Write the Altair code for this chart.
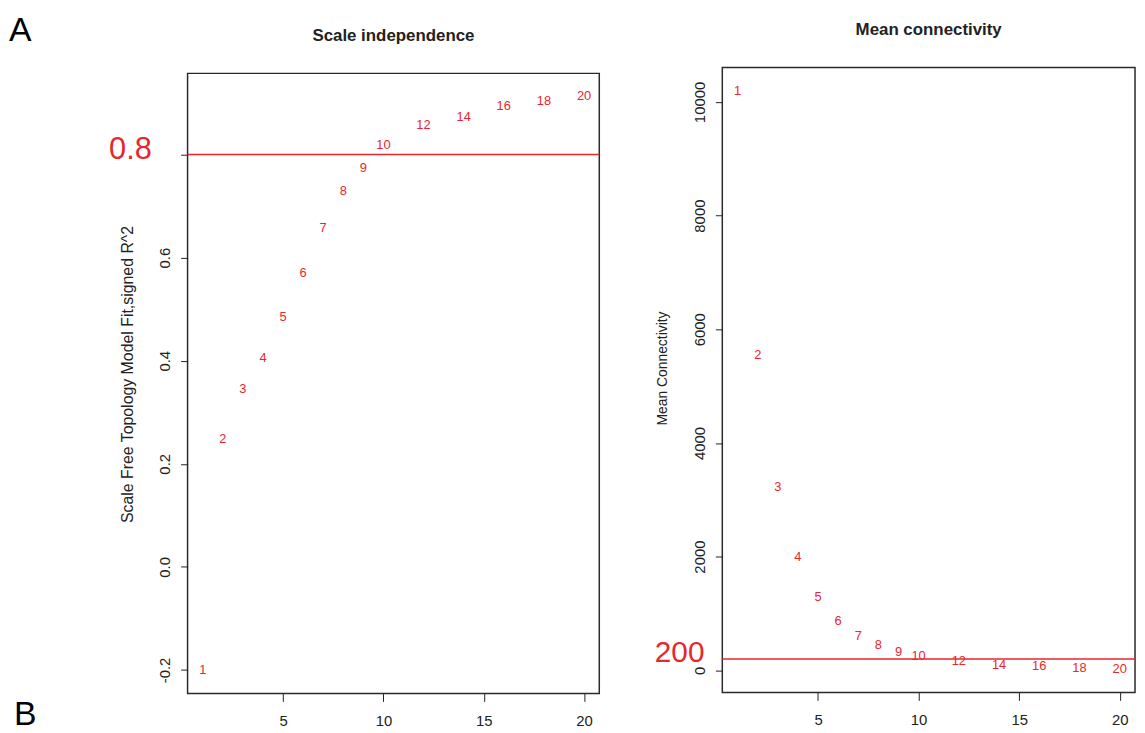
import altair as alt
import pandas as pd

# ---------------- data ----------------
powers = [1, 2, 3, 4, 5, 6, 7, 8, 9, 10, 12, 14, 16, 18, 20]
sft_r2 = [-0.201, 0.248, 0.346, 0.406, 0.484, 0.570, 0.658, 0.730, 0.773,
          0.818, 0.857, 0.873, 0.894, 0.903, 0.913]
mean_k = [10200, 5540, 3230, 2000, 1280, 870, 610, 440, 320,
          250, 157, 87, 70, 42, 17]
x_ticks = [5, 10, 15, 20]
r2_ticks = [-0.2, 0.0, 0.2, 0.4, 0.6, 0.8]
k_ticks = [0, 2000, 4000, 6000, 8000, 10000]
r2_cut = [0.8]
k_cut = [200]
titles = ["Scale independence", "Mean connectivity"]
y_titles = ["Scale Free Topology Model Fit,signed R^2", "Mean Connectivity"]
panel_tags = ["A", "B"]

FONT = "Liberation Sans"
RED = "#e8262d"
INK = "#222222"


def r_range(vals):
    lo, hi = min(vals), max(vals)
    pad = (hi - lo) * 0.04
    return [lo - pad, hi + pad]


W = 415
H_L = 625
H_R = 630

df = pd.DataFrame({"power": powers, "r2": sft_r2, "k": mean_k,
                   "lab": [str(p) for p in powers]})

x_enc = alt.X(
    "power:Q",
    scale=alt.Scale(domain=r_range(powers), nice=False, zero=False),
    axis=alt.Axis(values=x_ticks, title=None, grid=False, domain=False,
                  tickSize=8, tickColor=INK, tickWidth=1, format="d",
                  labelFontSize=15, labelFont=FONT, labelColor=INK,
                  labelPadding=12, labelFlush=False),
)


def y_axis(values, title, title_size, expr):
    return alt.Axis(
        values=values, title=title, grid=False, domain=False,
        tickSize=7, tickColor=INK, tickWidth=1,
        labelAngle=270, labelAlign="center", labelBaseline="bottom",
        labelPadding=8, labelFontSize=15, labelFont=FONT, labelColor=INK,
        labelOverlap=False, labelFlush=False, labelExpr=expr,
        titleFont=FONT, titleFontSize=title_size, titleFontWeight="normal",
        titleColor=INK, titleAngle=270, titleAlign="center",
        titleBaseline="middle", titleX=-60, titleY=303,
    )


yL = alt.Y("r2:Q",
           scale=alt.Scale(domain=r_range(sft_r2), nice=False, zero=False),
           axis=y_axis(r2_ticks, y_titles[0], 16,
                       "datum.value > 0.7 ? '' : replace(format(datum.value, '.1f'), '\u2212', '-')"))
yR = alt.Y("k:Q",
           scale=alt.Scale(domain=r_range(mean_k), nice=False, zero=False),
           axis=y_axis(k_ticks, y_titles[1], 14, "format(datum.value, 'd')"))

one_row = pd.DataFrame({"t": [0]})


def tag(text, x, y):
    return alt.Chart(pd.DataFrame({"t": [text]})).mark_text(
        font=FONT, fontSize=34, color="black", align="left", baseline="top",
    ).encode(x=alt.value(x), y=alt.value(y), text="t:N")


def anchor_box(y):
    # invisible box that fixes the top extent of a panel (layout helper)
    return alt.Chart(one_row).mark_rect(opacity=0).encode(
        x=alt.value(10), x2=alt.value(11), y=alt.value(y), y2=alt.value(y + 1))


# ---------------- left panel ----------------
pts_L = alt.Chart(df).mark_text(font=FONT, fontSize=13, color=RED,
                                align="center", baseline="middle").encode(
    x=x_enc, y=yL, text="lab:N")
cut_L_df = pd.DataFrame({"r2": r2_cut, "lab": [str(v) for v in r2_cut]})
rule_L = alt.Chart(cut_L_df).mark_rule(color=RED, strokeWidth=1.5).encode(y=yL)
cut_lab_L = alt.Chart(cut_L_df).mark_text(
    font=FONT, fontSize=31, color=RED, align="right", baseline="middle", dy=-5
).encode(x=alt.value(-36), y=yL, text="lab:N")

left = alt.layer(
    rule_L, pts_L, cut_lab_L,
    tag(panel_tags[0], -180, -60),
    tag(panel_tags[1], -175, 630),
).properties(
    width=W, height=H_L,
    title=alt.TitleParams(titles[0], font=FONT, fontSize=17, fontWeight="bold",
                          color=INK, anchor="middle", baseline="alphabetic",
                          offset=-44.5, frame="group"),
)

# ---------------- right panel ----------------
pts_R = alt.Chart(df).mark_text(font=FONT, fontSize=13, color=RED,
                                align="center", baseline="middle").encode(
    x=x_enc, y=yR, text="lab:N")
cut_R_df = pd.DataFrame({"k": k_cut, "lab": [str(v) for v in k_cut]})
rule_R = alt.Chart(cut_R_df).mark_rule(color=RED, strokeWidth=1.5).encode(y=yR)
cut_lab_R = alt.Chart(cut_R_df).mark_text(
    font=FONT, fontSize=30, color=RED, align="right", baseline="middle", dy=-6
).encode(x=alt.value(-18), y=yR, text="lab:N")

right = alt.layer(
    rule_R, pts_R, cut_lab_R, anchor_box(-53),
).properties(
    width=W + 1, height=H_R,
    title=alt.TitleParams(titles[1], font=FONT, fontSize=17, fontWeight="bold",
                          color=INK, anchor="middle", baseline="alphabetic",
                          offset=-37, frame="group"),
)

# tiny invisible spacer so the right panel can sit 7px higher than the left
spacer = alt.Chart(one_row).mark_rect(opacity=0).encode(
    x=alt.value(0), x2=alt.value(1), y=alt.value(0), y2=alt.value(1)
).properties(width=1, height=1,
             view=alt.ViewBackground(strokeWidth=0, strokeOpacity=0))

right_col = alt.concat(spacer, right, columns=1, spacing=-61, align="none")

chart = alt.hconcat(left, right_col, spacing=53).properties(
    padding={"left": 0, "top": 2, "right": 0, "bottom": 0},
    background="white",
).configure_view(stroke="#2a2a2a", strokeWidth=1.5)

chart.save("out.html", embed_options={"renderer": "svg", "actions": False})
